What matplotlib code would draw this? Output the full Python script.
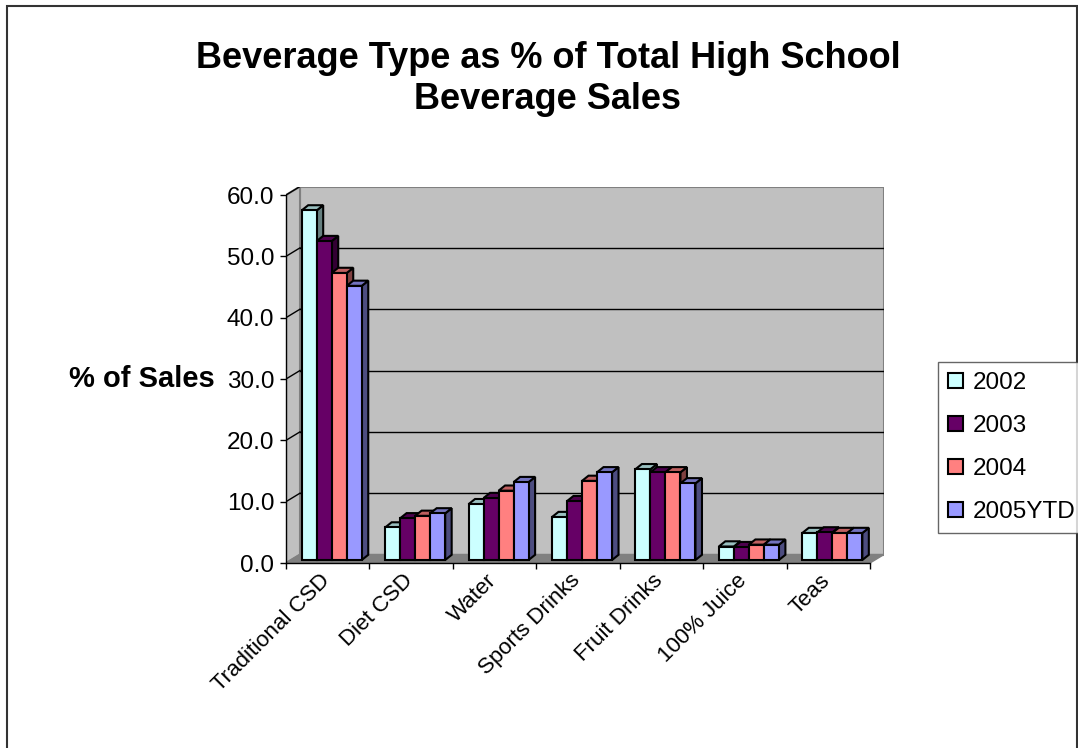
import numpy as np
import matplotlib
matplotlib.use('Agg')
import matplotlib.pyplot as plt
from matplotlib.patches import Polygon, Rectangle, Patch
from matplotlib.colors import to_rgb
from matplotlib.transforms import ScaledTranslation

plt.rcParams['font.family'] = ['Liberation Sans', 'DejaVu Sans']

categories = ['Traditional CSD', 'Diet CSD', 'Water', 'Sports Drinks',
              'Fruit Drinks', '100% Juice', 'Teas']
years = ['2002', '2003', '2004', '2005YTD']
s2002 = [57.0, 5.3, 9.1, 7.0, 14.8, 2.2, 4.4]
s2003 = [52.0, 6.8, 10.1, 9.6, 14.3, 2.1, 4.5]
s2004 = [46.8, 7.2, 11.3, 12.9, 14.3, 2.5, 4.4]
s2005 = [44.7, 7.6, 12.7, 14.3, 12.5, 2.5, 4.4]
series = [s2002, s2003, s2004, s2005]
colors = ['#CCFFFF', '#660066', '#FF8080', '#9999FF']

W, H = 1078, 748
PX_X = 83.43   # pixels per category
PX_Y = 6.133   # pixels per percent
DX = 14 / PX_X  # wall depth offset
DY = 8.5 / PX_Y
n = len(categories)
YMAX = 60
FS = 17.5

fig = plt.figure(figsize=(W / 100, H / 100), dpi=100)
ax = fig.add_axes([286 / W, (H - 563) / H, (n + DX) * PX_X / W, (YMAX + DY) * PX_Y / H])
ax.set_xlim(0, n + DX)
ax.set_ylim(0, YMAX + DY)
ax.set_facecolor('none')

wall_c = '#C0C0C0'
edge_c = '#808080'
# back wall
ax.add_patch(Rectangle((DX, DY), n, YMAX, fc=wall_c, ec=edge_c, lw=1.5, zorder=0))
# left wall
ax.add_patch(Polygon([(0, 0), (0, YMAX), (DX, YMAX + DY), (DX, DY)],
                     closed=True, fc=wall_c, ec=edge_c, lw=1.5, zorder=0))
# floor
ax.add_patch(Polygon([(0, 0), (n, 0), (n + DX, DY), (DX, DY)],
                     closed=True, fc='#808080', ec='#808080', lw=1, zorder=0.5))
# gridlines
for v in range(10, YMAX, 10):
    ax.plot([DX, n + DX], [v + DY, v + DY], color='black', lw=1, zorder=0.6)
for v in range(10, YMAX + 1, 10):
    ax.plot([0, DX], [v, v + DY], color='black', lw=1, zorder=0.6)

# bars
bw = 0.18
margin = 0.14
bdx, bdy = 4 / PX_X, 3 / PX_Y      # front face position inside depth
ddx, ddy = 6.5 / PX_X, 5.2 / PX_Y  # bar depth
for i in range(n):
    for j, vals in enumerate(series):
        v = vals[i]
        c = np.array(to_rgb(colors[j]))
        x0 = i + margin + j * bw + bdx
        y0 = bdy
        x1 = x0 + bw
        y1 = y0 + v
        side = Polygon([(x1, y0), (x1 + ddx, y0 + ddy), (x1 + ddx, y1 + ddy), (x1, y1)],
                       closed=True, fc=c * 0.5, ec='black', lw=1.5, zorder=2, joinstyle='miter')
        top = Polygon([(x0, y1), (x1, y1), (x1 + ddx, y1 + ddy), (x0 + ddx, y1 + ddy)],
                      closed=True, fc=c * 0.75, ec='black', lw=1.5, zorder=2, joinstyle='miter')
        front = Rectangle((x0, y0), bw, v, fc=c, ec='black', lw=1.5, zorder=2, joinstyle='miter')
        ax.add_patch(side)
        ax.add_patch(top)
        ax.add_patch(front)

# axes lines and ticks
for s in ['top', 'right']:
    ax.spines[s].set_visible(False)
ax.spines['left'].set_bounds(0, YMAX)
ax.spines['bottom'].set_bounds(0, n)
ax.spines['left'].set_linewidth(1)
ax.spines['bottom'].set_linewidth(1)
ax.spines['left'].set_zorder(3)
ax.spines['bottom'].set_zorder(3)

ax.set_yticks(np.arange(0, YMAX + 1, 10))
ax.set_yticklabels([f'{v:.1f}' for v in np.arange(0, YMAX + 1, 10)], fontsize=FS)
ax.set_xticks(np.arange(n) + 0.5)
ax.set_xticklabels(categories, rotation=45, ha='right', fontsize=16)
ax.set_xticks(np.arange(n + 1), minor=True)
ax.tick_params(axis='x', which='major', length=0, pad=5)
ax.tick_params(axis='x', which='minor', length=4.3, width=1, direction='out')
ax.tick_params(axis='y', length=4.3, width=1, direction='out', pad=4)
shift = ScaledTranslation(6 / 100, 0, fig.dpi_scale_trans)
for lab in ax.get_xticklabels():
    lab.set_transform(lab.get_transform() + shift)

fig.text(215 / W, 1 - 379 / H, '% of Sales', ha='right', va='center',
         fontsize=21, fontweight='bold')

fig.text(548 / W, 1 - 79 / H, 'Beverage Type as % of Total High School\nBeverage Sales',
         ha='center', va='center', fontsize=26, fontweight='bold', linespacing=1.2)

handles = [Patch(fc=c, ec='black', lw=1.5) for c in colors]
leg = fig.legend(handles, years, loc='upper left', bbox_to_anchor=(938 / W, 1 - 362 / H),
                 fontsize=FS, frameon=True, fancybox=False, edgecolor='#404040',
                 handlelength=0.6, handleheight=0.6, handletextpad=0.4,
                 labelspacing=0.86, borderpad=0.42, borderaxespad=0)
leg.get_frame().set_linewidth(1)

fig.patches.append(Rectangle((7 / W, -0.01), (1077 - 7) / W, 1 - 6 / H + 0.01,
                             transform=fig.transFigure, fill=False, ec='#333333', lw=1.5))

fig.savefig('out.png', dpi=100)
